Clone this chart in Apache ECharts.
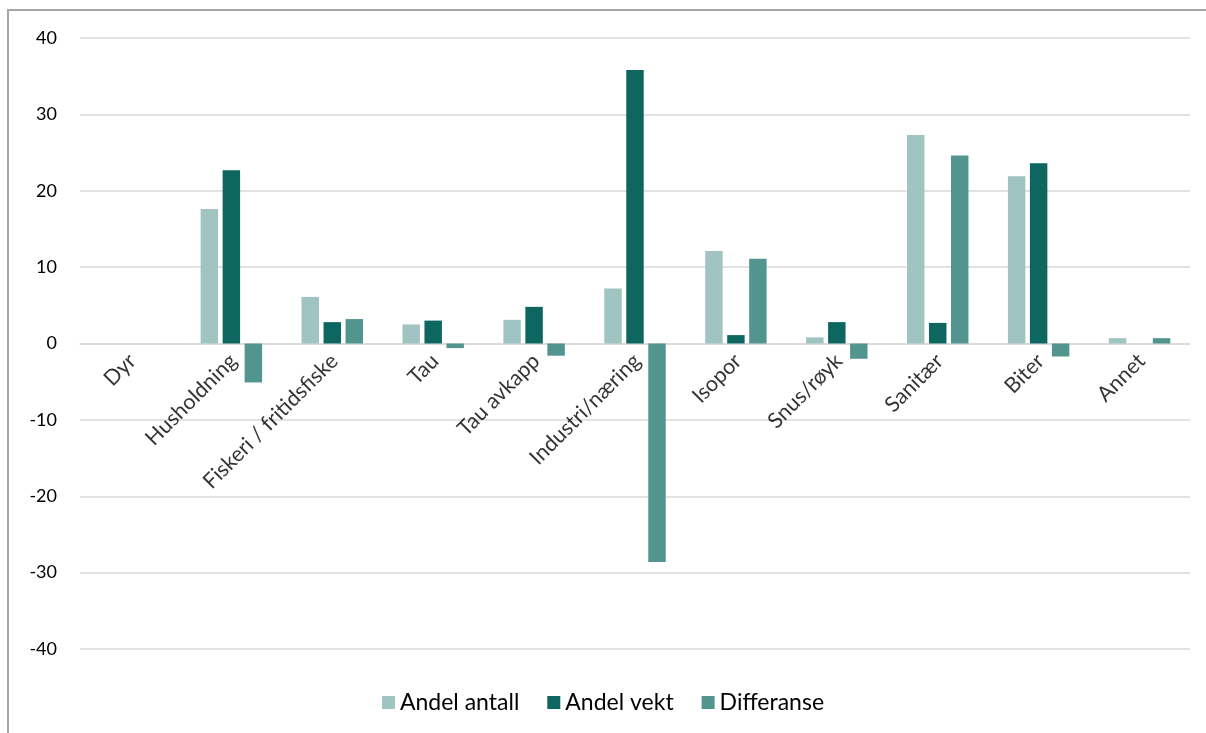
<!DOCTYPE html>
<html>
<head>
<meta charset="utf-8">
<script src="https://cdn.jsdelivr.net/npm/echarts@6/dist/echarts.min.js"></script>
<style>
  html, body { margin: 0; padding: 0; background: #ffffff; }
  #chart { width: 1206px; height: 733px; }
</style>
</head>
<body>
<div id="chart"></div>
<script>
// Categories of litter and their shares (%)
const categories = ['Dyr', 'Husholdning', 'Fiskeri / fritidsfiske', 'Tau', 'Tau avkapp',
  'Industri/næring', 'Isopor', 'Snus/røyk', 'Sanitær', 'Biter', 'Annet'];
const andelAntall = [0, 17.6, 6.1, 2.5, 3.1, 7.2, 12.1, 0.8, 27.3, 21.9, 0.7];
const andelVekt   = [0, 22.7, 2.8, 3.0, 4.8, 35.8, 1.1, 2.8, 2.7, 23.6, 0];
const differanse  = [0, -5.1, 3.2, -0.6, -1.6, -28.6, 11.1, -2.0, 24.6, -1.7, 0.7];
const yTicks = { min: -40, max: 40, interval: 10 };

const FONT = 'Lato, "Open Sans", sans-serif';
const colors = ['#A0C4C1', '#0E6660', '#52958F'];

const chart = echarts.init(document.getElementById('chart'), null, { renderer: 'canvas' });

const makeSeries = (name, data, color) => ({
  name, type: 'bar', data,
  barWidth: '17.3%',
  barGap: '26%',
  itemStyle: { color },
  emphasis: { disabled: true }
});

// Category names sit on the zero line, rotated 45 degrees
const categoryLabels = {
  name: 'kategorier',
  type: 'scatter',
  data: categories.map(c => [c, 0]),
  symbolSize: 0,
  silent: true,
  z: 5,
  label: {
    show: true,
    formatter: p => p.data[0],
    position: [2, 14],
    rotate: 45,
    align: 'right',
    verticalAlign: 'middle',
    fontSize: 21.5,
    color: '#000',
    fontFamily: FONT
  }
};

chart.setOption({
  animation: false,
  backgroundColor: '#ffffff',
  textStyle: { fontFamily: FONT },
  grid: { left: 80, right: 16, top: 38, bottom: 84, containLabel: false, outerBoundsMode: 'none' },
  legend: {
    top: 686,
    left: 'center',
    itemWidth: 13,
    itemHeight: 13,
    itemGap: 28,
    icon: 'rect',
    textStyle: { fontSize: 23, color: '#000', fontFamily: FONT },
    data: ['Andel antall', 'Andel vekt', 'Differanse']
  },
  xAxis: {
    type: 'category',
    data: categories,
    axisLine: { onZero: true, lineStyle: { color: '#d9d9d9', width: 1.5 } },
    axisTick: { show: false },
    axisLabel: { show: false }
  },
  yAxis: {
    type: 'value',
    min: yTicks.min, max: yTicks.max, interval: yTicks.interval,
    axisLine: { show: false },
    axisTick: { show: false },
    splitLine: { lineStyle: { color: '#d9d9d9', width: 1.5 } },
    axisLabel: { fontSize: 18, color: '#000', margin: 23, fontFamily: FONT }
  },
  graphic: [
    { type: 'line', shape: { x1: 8, y1: 10, x2: 8, y2: 733 }, style: { stroke: '#a6a6a6', lineWidth: 2 } },
    { type: 'line', shape: { x1: 7, y1: 10, x2: 1206, y2: 10 }, style: { stroke: '#a6a6a6', lineWidth: 2 } }
  ],
  series: [
    makeSeries('Andel antall', andelAntall, colors[0]),
    makeSeries('Andel vekt', andelVekt, colors[1]),
    makeSeries('Differanse', differanse, colors[2]),
    categoryLabels
  ]
});
</script>
</body>
</html>
